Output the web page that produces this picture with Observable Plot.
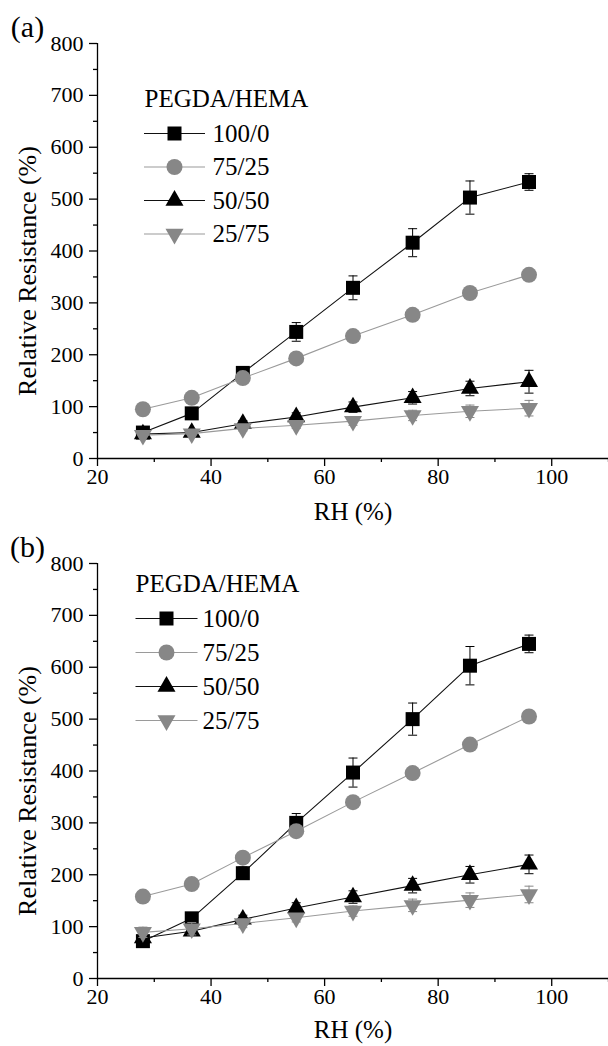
<!DOCTYPE html>
<html><head><meta charset="utf-8">
<script src="https://cdn.jsdelivr.net/npm/d3@7"></script>
<script src="https://cdn.jsdelivr.net/npm/@observablehq/plot@0.6"></script>
<style>
body{margin:0;background:#fff;}
#chart{width:608px;height:1046px;overflow:hidden;}
#chart svg{display:block;}
#chart svg, #chart svg text{font-family:"Liberation Serif","Times New Roman",serif !important;}
</style>
</head><body><div id="chart"></div>
<script>
// ---------- data ----------
const rh = [28, 36.6, 45.6, 55, 65, 75.5, 85.6, 96];
const seriesNames = ["100/0", "75/25", "50/50", "25/75"];
const legendTitle = "PEGDA/HEMA";
const panelLabels = ["(a)", "(b)"];
const xTicks = [20, 40, 60, 80, 100];
const xMinorTicks = [30, 50, 70, 90, 110];
const yTicks = [0, 100, 200, 300, 400, 500, 600, 700, 800];
const yMinorTicks = [50, 150, 250, 350, 450, 550, 650, 750];
const xLabel = "RH (%)";
const yLabel = "Relative Resistance (%)";

// panel (a)
const a100 = [50, 87, 165, 244, 329, 416, 503, 533];
const a100err = [4, 5, 7, 18, 23, 27, 32, 16];
const a75 = [95, 117, 155, 193, 236, 277, 319, 354];
const a75err = [3, 3, 4, 5, 5, 6, 6, 6];
const a50 = [47, 50, 67, 80, 99, 117, 135, 148];
const a50err = [4, 4, 6, 8, 10, 12, 14, 22];
const a25 = [45, 48, 58, 64, 72, 83, 91, 97];
const a25err = [3, 3, 5, 6, 8, 10, 12, 15];

// panel (b)
const b100 = [72, 116, 203, 300, 397, 500, 603, 645];
const b100err = [5, 8, 12, 18, 28, 31, 37, 17];
const b75 = [158, 182, 233, 284, 340, 396, 451, 505];
const b75err = [3, 3, 4, 5, 5, 6, 6, 6];
const b50 = [78, 91, 114, 136, 157, 179, 200, 220];
const b50err = [5, 6, 8, 10, 12, 14, 16, 18];
const b25 = [89, 96, 106, 117, 130, 141, 151, 162];
const b25err = [10, 12, 8, 8, 10, 12, 14, 16];

// ---------- styles ----------
const FONT = "'Liberation Serif', 'Times New Roman', serif";
const BLACK = "#000";
const GRAY = "#878787";
const GRAYLINE = "#9a9a9a";

const triDown = {
  draw(ctx, size) {
    const y = -Math.sqrt(size / (Math.sqrt(3) * 3));
    const s = Math.sqrt(3) * y;
    ctx.moveTo(0, -2 * y);
    ctx.lineTo(s, y);
    ctx.lineTo(-s, y);
    ctx.closePath();
  }
};
const hline = (w) => ({
  draw(ctx) { ctx.moveTo(-w / 2, 0); ctx.lineTo(w / 2, 0); }
});
const cap = hline(9);

const seriesStyle = [
  {symbol: "square", r: 7.9, fill: BLACK, line: "#111", err: BLACK},
  {symbol: "circle", r: 8, fill: GRAY, line: GRAYLINE, err: GRAY},
  {symbol: "triangle", r: 6.7, fill: BLACK, line: "#111", err: BLACK},
  {symbol: triDown, r: 6.7, fill: GRAY, line: GRAYLINE, err: GRAY}
];

function rows(values, errs) {
  return rh.map((x, i) => ({x, v: values[i], e: errs[i]}));
}

function panel({label, series, height, marginTop, marginBottom, leg, yLabelDy, xLabelDy}) {
  const marks = [
    Plot.ruleX([20], {stroke: BLACK, strokeWidth: 1.3}),
    Plot.ruleY([0], {stroke: BLACK, strokeWidth: 1.3}),
    Plot.axisY({ticks: yTicks, tickSize: 8, tickPadding: 6, label: null, fontSize: 22, strokeWidth: 1.3}),
    Plot.axisY({ticks: yMinorTicks, tickSize: 4, tickFormat: () => "", label: null, strokeWidth: 1.3}),
    Plot.axisX({ticks: xTicks, tickSize: 8, tickPadding: 2, label: null, fontSize: 22, strokeWidth: 1.3}),
    Plot.axisX({ticks: xMinorTicks, tickSize: 4, tickFormat: () => "", label: null, strokeWidth: 1.3}),
    Plot.text([yLabel], {text: d => d, frameAnchor: "left", dx: -70, dy: yLabelDy, rotate: -90, textAnchor: "middle", lineAnchor: "middle", fontSize: 26, fill: BLACK}),
    Plot.text([xLabel], {text: d => d, frameAnchor: "bottom", dy: xLabelDy, textAnchor: "middle", lineAnchor: "middle", fontSize: 25, fill: BLACK}),
    Plot.text([label], {text: d => d, frameAnchor: "top-left", dx: -70, dy: -16, textAnchor: "middle", lineAnchor: "middle", fontSize: 30, fill: BLACK})
  ];
  series.forEach((data, k) => {
    const st = seriesStyle[k];
    marks.push(
      Plot.ruleX(data, {x: "x", y1: d => d.v - d.e, y2: d => d.v + d.e, stroke: st.err, strokeWidth: 1}),
      Plot.dot(data, {x: "x", y: d => d.v + d.e, symbol: cap, r: 1, fill: "none", stroke: st.err, strokeWidth: 1}),
      Plot.dot(data, {x: "x", y: d => d.v - d.e, symbol: cap, r: 1, fill: "none", stroke: st.err, strokeWidth: 1}),
      Plot.line(data, {x: "x", y: "v", stroke: st.line, strokeWidth: 1.1}),
      Plot.dot(data, {x: "x", y: "v", symbol: st.symbol, r: st.r, fill: st.fill, stroke: "none"})
    );
  });
  // legend
  marks.push(Plot.text([legendTitle], {text: d => d, frameAnchor: "top-left", dx: leg.titleDx, dy: leg.titleDy, textAnchor: "start", lineAnchor: "middle", fontSize: 25, fill: BLACK}));
  seriesNames.forEach((name, k) => {
    const st = seriesStyle[k];
    const dy = leg.rowDy + k * leg.rowStep;
    marks.push(
      Plot.dot([name], {frameAnchor: "top-left", dx: leg.lineDx, dy, symbol: hline(leg.lineW), r: 1, fill: "none", stroke: st.line, strokeWidth: 1.1}),
      Plot.dot([name], {frameAnchor: "top-left", dx: leg.lineDx, dy, symbol: st.symbol, r: st.r, fill: st.fill, stroke: "none"}),
      Plot.text([name], {text: d => d, frameAnchor: "top-left", dx: leg.textDx, dy, textAnchor: "start", lineAnchor: "middle", fontSize: 25, fill: BLACK})
    );
  });
  return Plot.plot({
    width: 608,
    height,
    marginTop,
    marginBottom,
    marginLeft: 97,
    marginRight: 0,
    x: {domain: [20, 110], ticks: xTicks},
    y: {domain: [0, 800], ticks: yTicks},
    style: {fontFamily: FONT, fontSize: "22px", color: BLACK, background: "#fff", overflow: "visible"},
    marks
  });
}

const chart = document.getElementById("chart");
chart.append(panel({
  label: panelLabels[0],
  series: [rows(a100, a100err), rows(a75, a75err), rows(a50, a50err), rows(a25, a25err)],
  height: 523, marginTop: 43, marginBottom: 65, yLabelDy: 20, xLabelDy: 53,
  leg: {titleDx: 47, titleDy: 55, lineDx: 77, lineW: 61, textDx: 115, rowDy: 90, rowStep: 33.5}
}));
chart.append(panel({
  label: panelLabels[1],
  series: [rows(b100, b100err), rows(b75, b75err), rows(b50, b50err), rows(b25, b25err)],
  height: 523, marginTop: 40, marginBottom: 68, yLabelDy: 20, xLabelDy: 51,
  leg: {titleDx: 38, titleDy: 20, lineDx: 69, lineW: 62, textDx: 105, rowDy: 55, rowStep: 34}
}));
</script>
</body></html>
